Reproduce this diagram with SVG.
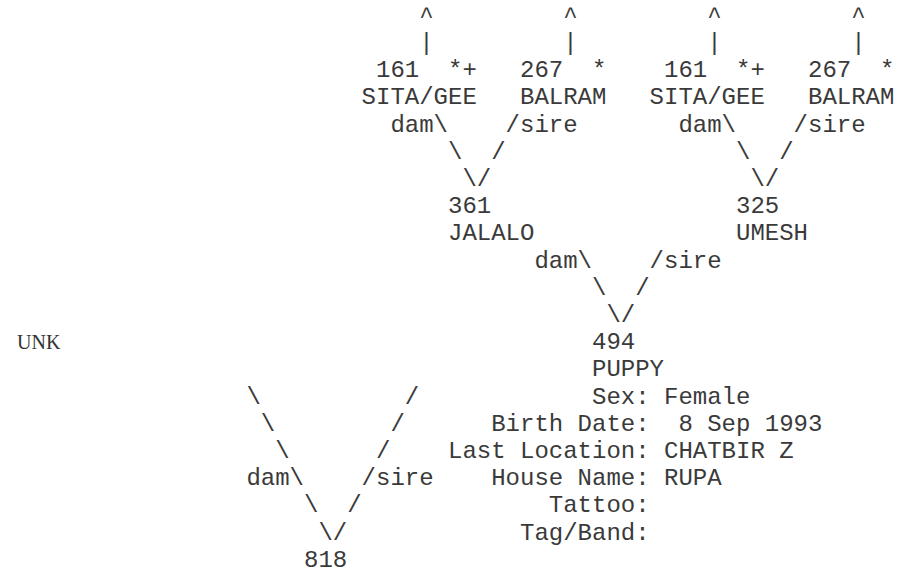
<svg xmlns="http://www.w3.org/2000/svg" width="899" height="574" viewBox="0 0 899 574">
<style>
text{font-family:"Liberation Mono","Courier New",monospace;font-size:24px;fill:#3a3a3a}
.serif{font-family:"Liberation Serif","Times New Roman",serif;font-size:20px;fill:#333}
</style>
<rect width="899" height="574" fill="#fff"/>
<g id="connectors">
<text x="419.2" y="22.8">^</text><text x="563.2" y="22.8">^</text><text x="707.2" y="22.8">^</text><text x="851.2" y="22.8">^</text>
<text x="419.2" y="50">|</text><text x="563.2" y="50">|</text><text x="707.2" y="50">|</text><text x="851.2" y="50">|</text>
<text x="390.4" y="131.6">dam\</text><text x="505.6" y="131.6">/sire</text>
<text x="678.4" y="131.6">dam\</text><text x="793.6" y="131.6">/sire</text>
<text x="448" y="158.8">\</text><text x="491.2" y="158.8">/</text>
<text x="736" y="158.8">\</text><text x="779.2" y="158.8">/</text>
<text x="462.4" y="186">\</text><text x="476.8" y="186">/</text>
<text x="750.4" y="186">\</text><text x="764.8" y="186">/</text>
<text x="534.4" y="267.6">dam\</text><text x="649.6" y="267.6">/sire</text>
<text x="592" y="294.8">\</text><text x="635.2" y="294.8">/</text>
<text x="606.4" y="322">\</text><text x="620.8" y="322">/</text>
<text x="246.4" y="403.6">\</text><text x="404.8" y="403.6">/</text>
<text x="260.8" y="430.8">\</text><text x="390.4" y="430.8">/</text>
<text x="275.2" y="458">\</text><text x="376" y="458">/</text>
<text x="246.4" y="485.2">dam\</text><text x="361.6" y="485.2">/sire</text>
<text x="304" y="512.4">\</text><text x="347.2" y="512.4">/</text>
<text x="318.4" y="539.6">\</text><text x="332.8" y="539.6">/</text>
</g>
<g id="node-161-a">
<text x="376" y="77.2">161</text><text x="448" y="77.2">*+</text>
<text x="361.6" y="104.4">SITA/GEE</text>
</g>
<g id="node-267-a">
<text x="520" y="77.2">267</text><text x="592" y="77.2">*</text>
<text x="520" y="104.4">BALRAM</text>
</g>
<g id="node-161-b">
<text x="664" y="77.2">161</text><text x="736" y="77.2">*+</text>
<text x="649.6" y="104.4">SITA/GEE</text>
</g>
<g id="node-267-b">
<text x="808" y="77.2">267</text><text x="880" y="77.2">*</text>
<text x="808" y="104.4">BALRAM</text>
</g>
<g id="node-361">
<text x="448" y="213.2">361</text>
<text x="448" y="240.4">JALALO</text>
</g>
<g id="node-325">
<text x="736" y="213.2">325</text>
<text x="736" y="240.4">UMESH</text>
</g>
<g id="node-unk">
<text class="serif" x="17" y="349.2">UNK</text>
</g>
<g id="node-494">
<text x="592" y="349.2">494</text>
<text x="592" y="376.4">PUPPY</text>
<text x="592" y="403.6">Sex: Female</text>
<text x="491.2" y="430.8">Birth Date:</text><text x="678.4" y="430.8">8 Sep 1993</text>
<text x="448" y="458">Last Location:</text><text x="664" y="458">CHATBIR Z</text>
<text x="491.2" y="485.2">House Name:</text><text x="664" y="485.2">RUPA</text>
<text x="548.8" y="512.4">Tattoo:</text>
<text x="520" y="539.6">Tag/Band:</text>
</g>
<g id="node-818">
<text x="304" y="566.8">818</text>
</g>
</svg>
